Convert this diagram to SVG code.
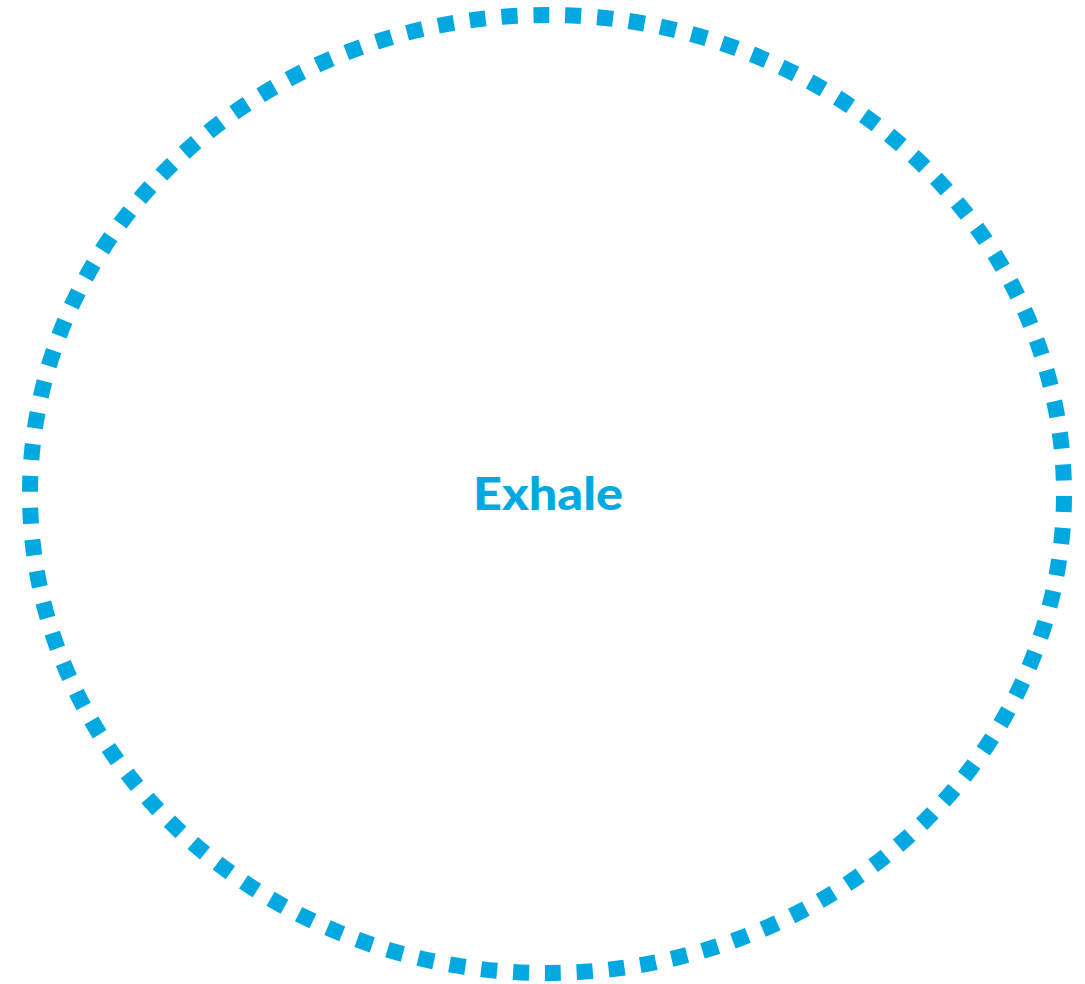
<svg xmlns="http://www.w3.org/2000/svg" width="1085" height="984" viewBox="0 0 1085 984">
<style>
.ring{fill:none;stroke:#02a9e1;stroke-width:16;stroke-dasharray:16 15.94;stroke-dashoffset:-2}
.label{font-family:Lato,"Open Sans","Liberation Sans",sans-serif;font-weight:900;font-size:45px;fill:#02a9e1;text-anchor:middle}
</style>
<rect width="1085" height="984" fill="#ffffff"/>
<g id="exhale">
<ellipse class="ring" cx="547" cy="494" rx="517" ry="479"/>
<text class="label" x="548" y="510" textLength="150" lengthAdjust="spacingAndGlyphs">Exhale</text>
</g>
</svg>
